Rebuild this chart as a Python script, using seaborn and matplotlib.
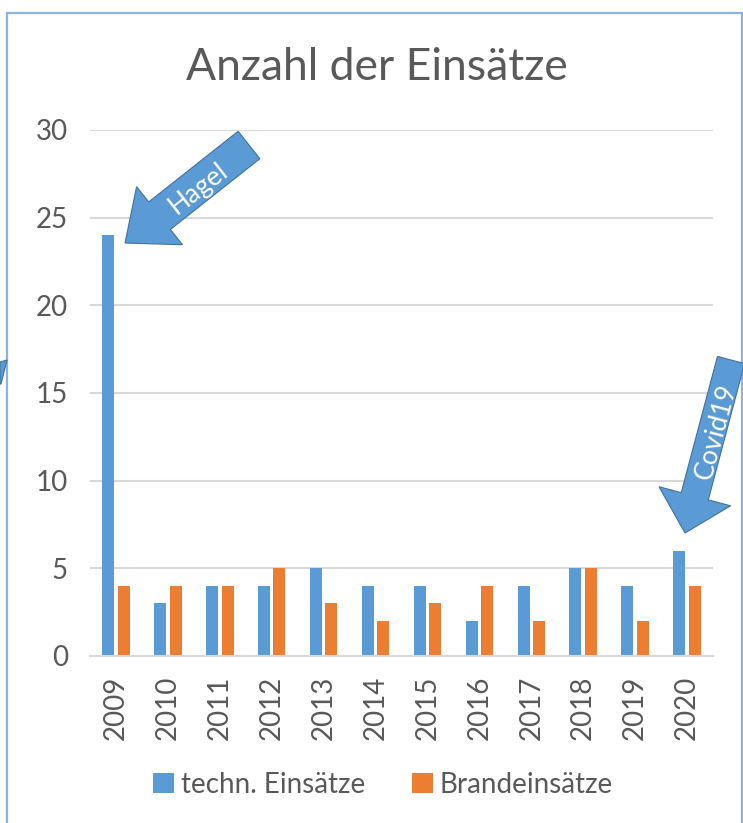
import matplotlib
matplotlib.use("Agg")
import matplotlib.pyplot as plt
import seaborn as sns
import pandas as pd
import numpy as np
from matplotlib.patches import Polygon, Rectangle

years = ["2009", "2010", "2011", "2012", "2013", "2014", "2015", "2016", "2017", "2018", "2019", "2020"]
techn = [24, 3, 4, 4, 5, 4, 4, 2, 4, 5, 4, 6]
brand = [4, 4, 4, 5, 3, 2, 3, 4, 2, 5, 2, 4]
series_names = ["techn. Einsätze", "Brandeinsätze"]
colors = ["#5B9BD5", "#ED7D31"]
yticks = [0, 5, 10, 15, 20, 25, 30]

df = pd.DataFrame({
    "Jahr": years * 2,
    "Wert": techn + brand,
    "Serie": [series_names[0]] * len(years) + [series_names[1]] * len(years),
})

W, H = 743, 823
sns.set_theme(style="white")
plt.rcParams["font.family"] = ["Lato", "DejaVu Sans"]
txt = "#595959"

fig = plt.figure(figsize=(W / 100, H / 100), dpi=100)
ax = fig.add_axes([90 / W, 1 - 656 / H, (713 - 90) / W, (656 - 130) / H])

sns.barplot(data=df, x="Jahr", y="Wert", hue="Serie", palette=colors,
            width=0.6, gap=0.23, ax=ax, saturation=1, legend=True,
            linewidth=0, edgecolor="none")

ax.set_ylim(0, 30)
ax.set_xlim(-0.5, len(years) - 0.5)
ax.set_yticks(yticks)
ax.set_yticklabels([str(v) for v in yticks], fontsize=20, color=txt)
ax.set_xticks(range(len(years)))
ax.set_xticklabels(years, rotation=90, fontsize=20, color=txt)
ax.tick_params(axis="y", length=0, pad=16)
ax.tick_params(axis="x", length=0, pad=14)
ax.set_xlabel("")
ax.set_ylabel("")
ax.yaxis.grid(True, color="#D9D9D9", linewidth=1.5)
ax.set_axisbelow(True)
for s in ["left", "right", "top"]:
    ax.spines[s].set_visible(False)
ax.spines["bottom"].set_color("#D9D9D9")
ax.spines["bottom"].set_linewidth(1.5)

handles, labels = ax.get_legend_handles_labels()
ax.get_legend().remove()
fig.legend(handles, labels, loc="center", bbox_to_anchor=(383 / W, 1 - 785 / H),
           ncol=2, frameon=False, fontsize=20, labelcolor=txt,
           handlelength=0.75, handleheight=0.75, handletextpad=0.25, columnspacing=1.7)

fig.text(377 / W, 1 - 67 / H, "Anzahl der Einsätze", ha="center", va="center",
         fontsize=32, color=txt)

# figure border
fig.patches.append(Rectangle((7 / W, -0.02), (742 - 7) / W, (H - 13) / H + 0.02,
                             transform=fig.transFigure, fill=False,
                             edgecolor="#8FB3DE", linewidth=1.6, clip_on=False))


def block_arrow(tail, tip, shaft_w, head_w, head_len):
    tail = np.array(tail, float)
    tip = np.array(tip, float)
    d = tip - tail
    L = np.hypot(*d)
    u = d / L
    n = np.array([-u[1], u[0]])
    base = tip - u * head_len
    pts = [tail + n * shaft_w / 2, base + n * shaft_w / 2, base + n * head_w / 2, tip,
           base - n * head_w / 2, base - n * shaft_w / 2, tail - n * shaft_w / 2]
    return [(p[0] / W, 1 - p[1] / H) for p in pts]


arrow_kw = dict(transform=fig.transFigure, facecolor="#5B9BD5", edgecolor="#41719C",
                linewidth=0.8, clip_on=False)
fig.patches.append(Polygon(block_arrow((249, 145), (125, 243), 35, 74, 44), **arrow_kw))
fig.patches.append(Polygon(block_arrow((731, 360), (685, 533), 28, 74, 38), **arrow_kw))
fig.patches.append(Polygon([(0, 1 - 362 / H), (7 / W, 1 - 360 / H), (1 / W, 1 - 384 / H), (0, 1 - 384 / H)],
                           **arrow_kw))

fig.text(198 / W, 1 - 188 / H, "Hagel", ha="center", va="center", rotation=38,
         rotation_mode="anchor", fontsize=19, color="white")
fig.text(716 / W, 1 - 432 / H, "Covid19", ha="center", va="center", rotation=75,
         rotation_mode="anchor", fontsize=19, color="white")

fig.savefig("out.png", dpi=100)
